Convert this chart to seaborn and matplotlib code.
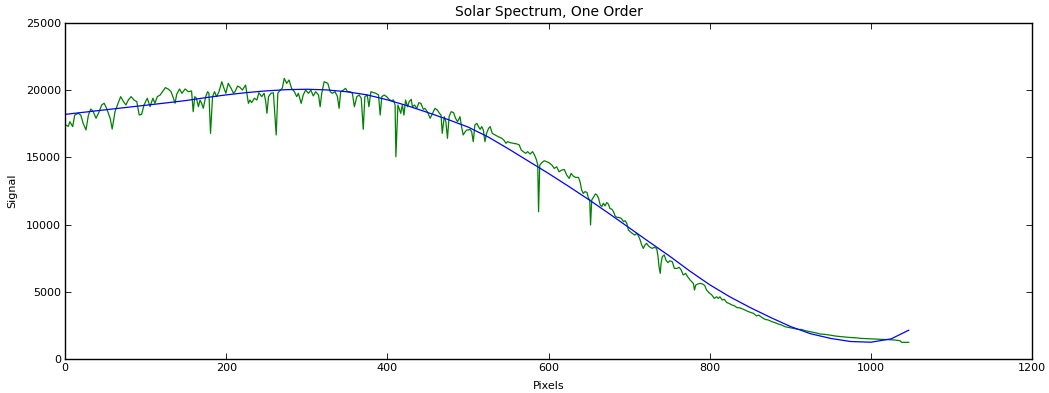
import pandas as pd
import matplotlib
matplotlib.use("Agg")
import matplotlib.pyplot as plt
import seaborn as sns

# green spectrum in pieces (pixel index, signal)
seg1_px = [0, 1, 4, 6, 9.5, 12, 16.5, 19.5, 22.5, 26,
           29, 32, 35, 38.5, 41.5, 45.5, 48.5, 51.5, 56, 58.5,
           62, 65, 69, 72.5, 75.5, 78.5, 82, 85.5, 89, 92,
           95, 98, 102, 105.5, 109, 111.5, 114.5, 118, 121, 124.5,
           128, 131.5, 134.5, 136.5, 138.5, 142, 145, 149, 153, 157,
           159]
seg1_sig = [17450, 17410, 17310, 17660, 17290, 18150, 18280, 18150, 17530, 17040,
            18150, 18600, 18400, 17910, 18280, 18900, 19030, 18650, 17910, 17110,
            18400, 18900, 19520, 19150, 18900, 19270, 19520, 19270, 19150, 18150,
            18200, 18900, 19400, 18780, 19400, 19030, 19520, 19640, 19890, 20190,
            20090, 19890, 19400, 19030, 19690, 20090, 19770, 20090, 19890, 19940,
            18400]

seg2_px = [161, 163, 165.5, 167.5, 169.5, 171.5, 174.5, 177, 178.5, 180.5,
           183, 185.5, 188, 191, 194.5, 196.5, 199.5, 202.5, 206, 209,
           211, 214, 217, 220, 224, 227.5, 229.5, 231.5, 235, 238,
           240.5, 244, 247, 249, 250.5, 252.5, 255.5, 258.5, 262, 264,
           267, 269.5, 272, 275, 278, 281, 284.5, 287.5, 289.5, 293,
           295.5, 298.5, 302, 305, 308, 311, 314.5, 316.5, 318.5, 321.5]
seg2_sig = [19520, 19400, 18770, 19270, 19020, 18650, 19520, 19890, 19770, 16790,
            19520, 19890, 19520, 19890, 20630, 20260, 19770, 20510, 20140, 19770,
            19890, 20310, 20210, 20010, 20380, 19020, 19270, 19070, 19400, 19270,
            19810, 19520, 19770, 19150, 18280, 19520, 19770, 19810, 16670, 19770,
            20010, 20140, 20880, 20510, 20760, 20140, 19890, 19520, 19770, 19020,
            19640, 20010, 19770, 20010, 19570, 19890, 19640, 18770, 19770, 20630]

seg3_px = [326, 329, 331.5, 335, 338, 340, 342, 345.5, 348, 350.5,
           353.5, 356.5, 359, 362, 365, 367.5, 370, 372, 375, 377,
           379.5, 382.5, 385.5, 389, 391, 393, 396, 399, 402, 404.5,
           407.5, 409.5, 410.5, 413, 414.5, 416.5, 418.5, 420.5, 422.5, 425,
           427, 429.5, 431, 433.5, 436.5, 439, 441.5, 444.5, 446.5, 449.5,
           453, 456, 459, 462, 464.5, 466.5, 468, 470.5, 472.5, 474.5,
           476.5, 479, 482, 484.5, 487, 490, 492, 494, 496.5]
seg3_sig = [20510, 19890, 19770, 19890, 19520, 18650, 19890, 20010, 20140, 19890,
            19890, 19770, 18770, 19520, 19640, 19400, 17090, 19520, 19640, 18770,
            19890, 19820, 19770, 19640, 18150, 19520, 19640, 19520, 19320, 19220,
            19270, 18900, 15050, 18900, 18650, 18280, 18900, 18150, 19270, 18770,
            19150, 19320, 18770, 18900, 18650, 19070, 19020, 18580, 18650, 18400,
            17910, 18280, 18650, 18520, 18280, 18150, 16790, 18030, 17660, 16420,
            18030, 18400, 18340, 17910, 17660, 18030, 17290, 16670, 16910]

seg4_px = [498.5, 500.5, 502.5, 504.5, 506.5, 508.5, 511, 513, 515, 517,
           519, 521, 523, 525.5, 527.5, 530, 533.5, 537.5, 542, 545,
           547, 549, 552, 556.5, 560.5, 563.5, 566, 568.5, 571.5, 574,
           577, 580, 582.5, 585, 586.5, 587.5, 589, 591.5, 594.5, 597.5,
           600.5, 604, 607, 610, 613, 616, 619.5, 622.5, 625.5, 628,
           630.5, 633.5, 637, 639, 641, 643, 645, 647.5, 649.5, 651,
           652, 653.5, 655.5]
seg4_sig = [17040, 17040, 17090, 16910, 16170, 17410, 17530, 17290, 17090, 17290,
            17040, 16170, 16790, 17160, 17290, 16790, 16670, 16540, 16420, 16250,
            16050, 16170, 16100, 16050, 16000, 15930, 15550, 15430, 15300, 15430,
            15250, 15430, 15180, 14800, 14430, 10960, 14430, 14600, 14750, 14680,
            14600, 14430, 14180, 14300, 13930, 14050, 14100, 13680, 13440, 13810,
            13610, 13510, 13510, 13190, 12570, 12320, 12450, 12400, 11950, 11830,
            9970, 11830, 12020]

seg5_px = [658, 660, 662, 664, 666, 668, 670, 672, 674, 676,
           678.5, 680.5, 682.5, 684.5, 686.5, 690, 693, 695, 697, 699,
           702.5, 705, 707, 709.5, 711.5, 713.5, 715.5, 717.5, 719.5, 721.5,
           724, 726, 728.5, 731, 734, 735.5, 737, 738.5, 739.5, 741,
           743.5, 745.5, 748, 750.5, 753.5, 756, 759, 762, 764.5, 767,
           770, 772.5, 775.5, 777.5, 779.5, 781, 782.5, 785, 788, 791,
           793.5, 796, 799, 802.5, 805.5, 808.5, 810.5, 812.5, 815.5, 818,
           821, 824, 827, 830.5, 833.5]
seg5_sig = [12280, 12200, 11950, 11460, 11340, 11590, 11390, 11640, 11540, 11210,
            11140, 10960, 10640, 10540, 10540, 10470, 10220, 10290, 10090, 9600,
            9400, 9300, 9220, 9350, 9150, 8860, 8480, 8230, 8480, 8610,
            8410, 8310, 8230, 8310, 8230, 7740, 6870, 6370, 7110, 7610,
            7740, 7360, 7170, 7310, 7230, 6740, 6740, 6820, 6620, 6250,
            6370, 6120, 5880, 5750, 5630, 5130, 5500, 5580, 5630, 5580,
            5480, 5130, 4930, 4760, 4510, 4630, 4510, 4630, 4390, 4440,
            4200, 4130, 4030, 3960, 3830]

seg6_px = [837.5, 843.5, 848, 854, 858, 860.5, 864.5, 868.5, 872.5, 877,
           881, 885, 889, 893.5, 897.5, 903.5, 910, 914, 918, 924.5,
           930.5, 937, 943, 949, 955.5, 963.5, 972, 980, 988.5, 996.5,
           1005, 1013.5, 1021.5, 1030, 1036, 1038, 1047]
seg6_sig = [3800, 3650, 3520, 3400, 3200, 3270, 3100, 2950, 2900, 2780,
            2700, 2600, 2530, 2400, 2350, 2280, 2200, 2200, 2110, 2030,
            1960, 1860, 1830, 1780, 1710, 1660, 1610, 1580, 1530, 1510,
            1490, 1460, 1440, 1410, 1360, 1240, 1240]

# blue smooth fit curve
fit_px = [0, 25, 50, 75, 100, 125, 150, 175, 200, 225,
          250, 275, 300, 325, 350, 375, 400, 425, 450, 475,
          500, 525, 550, 575, 600, 625, 650, 675, 700, 725,
          750, 775, 800, 825, 850, 875, 900, 925, 950, 975,
          1000, 1025, 1047]
fit_sig = [18200, 18370, 18540, 18710, 18880, 19050, 19230, 19450, 19650, 19820,
           19950, 20040, 20070, 20020, 19880, 19650, 19280, 18840, 18340, 17820,
           17260, 16520, 15640, 14720, 13800, 12840, 11850, 10820, 9760, 8700,
           7660, 6550, 5520, 4620, 3830, 3100, 2420, 1880, 1530, 1300,
           1250, 1500, 2150]

spec = pd.DataFrame({
    "Pixels": seg1_px + seg2_px + seg3_px + seg4_px + seg5_px + seg6_px,
    "Signal": seg1_sig + seg2_sig + seg3_sig + seg4_sig + seg5_sig + seg6_sig,
})
fit = pd.DataFrame({"Pixels": fit_px, "Signal": fit_sig})

sns.set_theme(style="white")
plt.rcParams.update({
    "font.family": ["DejaVu Sans"],
    "text.color": "black",
    "axes.labelcolor": "black",
    "axes.titlecolor": "black",
    "axes.edgecolor": "black",
    "axes.linewidth": 1.0,
    "xtick.direction": "in",
    "ytick.direction": "in",
    "xtick.top": True,
    "ytick.right": True,
    "xtick.bottom": True,
    "ytick.left": True,
    "xtick.major.size": 4,
    "ytick.major.size": 4,
    "xtick.major.width": 0.6,
    "ytick.major.width": 0.6,
    "xtick.color": "black",
    "ytick.color": "black",
    "xtick.labelsize": 8,
    "ytick.labelsize": 8,
})

fig = plt.figure(figsize=(10.49, 3.93), dpi=100)
ax = fig.add_axes([0.062, 0.0865, 0.922, 0.855])

sns.lineplot(data=spec, x="Pixels", y="Signal", color="#008000", lw=0.9,
             estimator=None, sort=False, ax=ax)
sns.lineplot(data=fit, x="Pixels", y="Signal", color="#0000ff", lw=0.9,
             estimator=None, sort=False, ax=ax)

ax.set_xlim(0, 1200)
ax.set_ylim(0, 25000)
ax.set_xticks(range(0, 1201, 200))
ax.set_yticks(range(0, 25001, 5000))
ax.tick_params(pad=3)
ax.set_title("Solar Spectrum, One Order", fontsize=10, pad=5)
ax.set_xlabel("Pixels", fontsize=8, labelpad=5.5)
ax.set_ylabel("Signal", fontsize=8, labelpad=6)

fig.savefig("out.png", dpi=100)
